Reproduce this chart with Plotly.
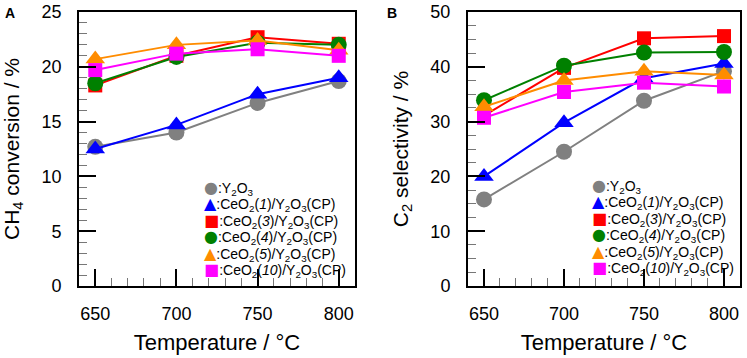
import plotly.graph_objects as go

temps = [650, 700, 750, 800]
names = [":Y<sub>2</sub>O<sub>3</sub>",
         ":CeO<sub>2</sub>(<i>1</i>)/Y<sub>2</sub>O<sub>3</sub>(CP)",
         ":CeO<sub>2</sub>(<i>3</i>)/Y<sub>2</sub>O<sub>3</sub>(CP)",
         ":CeO<sub>2</sub>(<i>4</i>)/Y<sub>2</sub>O<sub>3</sub>(CP)",
         ":CeO<sub>2</sub>(<i>5</i>)/Y<sub>2</sub>O<sub>3</sub>(CP)",
         ":CeO<sub>2</sub>(<i>10</i>)/Y<sub>2</sub>O<sub>3</sub>(CP)"]
colors = ["#808080", "#0000FF", "#FF0000", "#008000", "#FF8C00", "#FF00FF"]
symbols = ["circle", "triangle-up", "square", "circle", "triangle-up", "square"]
msizes = [16, 17, 14, 16, 17, 14]
glyphs = {"circle": "●", "triangle-up": "▲", "square": "■"}

# CH4 conversion (%)
conv_Y2O3 = [12.7, 14.0, 16.7, 18.7]
conv_Ce1 = [12.5, 14.7, 17.5, 19.0]
conv_Ce3 = [18.3, 21.0, 22.7, 22.1]
conv_Ce4 = [18.5, 20.9, 22.2, 22.0]
conv_Ce5 = [20.7, 22.0, 22.4, 21.5]
conv_Ce10 = [19.7, 21.2, 21.6, 21.0]

# C2 selectivity (%)
sel_Y2O3 = [15.8, 24.5, 33.8, 39.2]
sel_Ce1 = [20.0, 29.8, 37.9, 40.6]
sel_Ce3 = [31.1, 39.8, 45.2, 45.6]
sel_Ce4 = [33.9, 40.2, 42.6, 42.7]
sel_Ce5 = [32.7, 37.5, 39.2, 38.5]
sel_Ce10 = [30.7, 35.4, 37.1, 36.4]

conv = [conv_Y2O3, conv_Ce1, conv_Ce3, conv_Ce4, conv_Ce5, conv_Ce10]
sel = [sel_Y2O3, sel_Ce1, sel_Ce3, sel_Ce4, sel_Ce5, sel_Ce10]

FONT = "Liberation Sans, Arial, sans-serif"
W, H = 747, 358
fig = go.Figure()

for data, xa, ya in [(conv, "x", "y"), (sel, "x2", "y2")]:
    for i in range(6):
        fig.add_trace(go.Scatter(x=temps, y=data[i], mode="lines+markers", xaxis=xa, yaxis=ya,
                                 name=names[i], showlegend=False,
                                 line=dict(color=colors[i], width=2),
                                 marker=dict(color=colors[i], symbol=symbols[i], size=msizes[i],
                                             line=dict(width=0))))

ydom = [0.2011, 0.9665]
minor_style = dict(ticks="inside", ticklen=8, tickcolor="#777777", tickwidth=1)
xcommon = dict(range=[640, 810], tickvals=[650, 700, 750, 800], ticks="inside", ticklen=17,
               tickwidth=2, tickcolor="black", showline=True, linewidth=2, linecolor="black",
               mirror=True, showgrid=False, zeroline=False, automargin=False,
               tickfont=dict(size=18, color="black", family=FONT),
               ticklabelstandoff=10,
               minor=dict(dtick=10, **minor_style),
               title=dict(text="Temperature / °C", font=dict(size=22, color="black", family=FONT),
                          standoff=12))
ycommon = dict(ticks="inside", ticklen=17, tickwidth=2, tickcolor="black", showline=True,
               linewidth=2, linecolor="black", mirror=True, showgrid=False, zeroline=False,
               automargin=False,
               tickfont=dict(size=18, color="black", family=FONT), ticklabelstandoff=12)

# legend rows built as annotations (marker glyph + label), one block per panel
annotations = [
    dict(text="<b>A</b>", x=10 / W, y=1 - 13 / H, xref="paper", yref="paper",
         xanchor="center", yanchor="middle",
         showarrow=False, font=dict(size=14, color="black", family=FONT)),
    dict(text="<b>B</b>", x=392 / W, y=1 - 13 / H, xref="paper", yref="paper",
         xanchor="center", yanchor="middle",
         showarrow=False, font=dict(size=14, color="black", family=FONT)),
]
for left_px, top_px in [(202, 188), (590, 186)]:
    for i in range(6):
        annotations.append(dict(
            text=f"<span style='color:{colors[i]};font-family:DejaVu Sans;font-size:16px'>{glyphs[symbols[i]]}</span>{names[i]}",
            x=left_px / W, y=1 - (top_px + i * 16.4) / H, xref="paper", yref="paper",
            xanchor="left", yanchor="middle", showarrow=False, align="left",
            font=dict(size=14, color="black", family=FONT)))

fig.update_layout(
    width=W, height=H,
    margin=dict(l=0, r=0, t=0, b=0),
    paper_bgcolor="white", plot_bgcolor="white",
    font=dict(family=FONT, color="black"),
    showlegend=False,
    xaxis=dict(domain=[0.1058, 0.4752], anchor="y", **xcommon),
    xaxis2=dict(domain=[0.6265, 0.9906], anchor="y2", **xcommon),
    yaxis=dict(domain=ydom, anchor="x", range=[0, 25], tickvals=[0, 5, 10, 15, 20, 25],
               minor=dict(dtick=1, **minor_style),
               title=dict(text="CH<sub>4</sub> conversion / %", font=dict(size=21, color="black", family=FONT),
                          standoff=16),
               **ycommon),
    yaxis2=dict(domain=ydom, anchor="x2", range=[0, 50], tickvals=[0, 10, 20, 30, 40, 50],
                minor=dict(dtick=2.5, **minor_style),
                title=dict(text="C<sub>2</sub> selectivity / %", font=dict(size=21, color="black", family=FONT),
                           standoff=16),
                **ycommon),
    annotations=annotations,
)

fig.write_html("out.html", config={"displayModeBar": False},
               post_script="document.body.style.margin='0';document.body.style.overflow='hidden';")
